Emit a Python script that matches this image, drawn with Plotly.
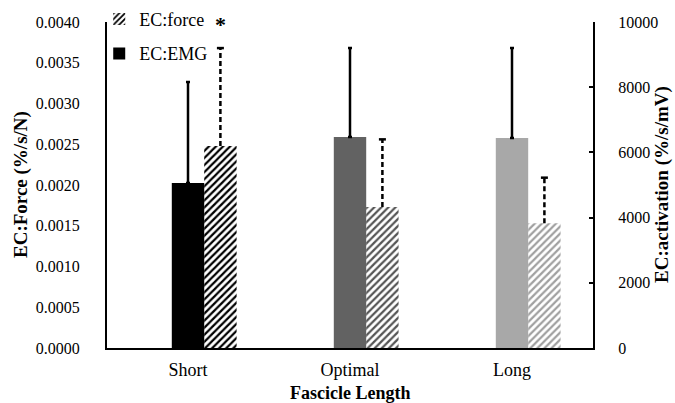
import plotly.graph_objects as go

# Data
categories = ["Short", "Optimal", "Long"]
emg_values = [5060, 6470, 6440]          # EC:EMG (%/s/mV), right axis
emg_errors = [3100, 2730, 2760]
force_values = [0.00248, 0.00173, 0.00153]  # EC:force (%/s/N), left axis
force_errors = [0.00120, 0.00083, 0.00056]

solid_colors = ["#000000", "#626262", "#a8a8a8"]
hatch_colors = ["#000000", "#555555", "#a0a0a0"]

pos = list(range(len(categories)))
bar_w = 0.2
force_pos = [p + bar_w for p in pos]

serif = "Liberation Serif"

fig = go.Figure()

# EC:force hatched bars on the left axis
fig.add_trace(go.Bar(
    x=force_pos, y=force_values, width=bar_w, name="EC:force",
    legendgroup="force",
    marker=dict(color="white", line=dict(width=0),
                pattern=dict(shape="/", fgcolor=hatch_colors, bgcolor="white",
                             fgopacity=1, size=5, solidity=0.45,
                             fillmode="overlay")),
    yaxis="y",
))

# EC:EMG solid bars on the right axis
fig.add_trace(go.Bar(
    x=pos, y=emg_values, width=bar_w, name="EC:EMG",
    legendgroup="emg",
    marker=dict(color=solid_colors, line=dict(width=0)),
    error_y=dict(type="data", symmetric=False, array=emg_errors,
                 arrayminus=[0] * len(emg_errors), color="black",
                 thickness=2.5, width=2),
    yaxis="y2",
))

# dashed error bars for EC:force
ex, ey = [], []
for xc, v, e in zip(force_pos, force_values, force_errors):
    ex += [xc, xc, None]
    ey += [v, v + e, None]
fig.add_trace(go.Scatter(
    x=ex, y=ey, mode="lines", showlegend=False, hoverinfo="skip",
    line=dict(color="black", width=2.5, dash="5px,3px"), yaxis="y",
))
fig.add_trace(go.Scatter(
    x=force_pos, y=[v + e for v, e in zip(force_values, force_errors)],
    mode="markers", showlegend=False, hoverinfo="skip",
    marker=dict(symbol="line-ew", size=5, line=dict(color="black", width=2.5)),
    yaxis="y",
))

fig.update_layout(
    width=675, height=403,
    margin=dict(l=107, r=82, t=22, b=55, autoexpand=False),
    paper_bgcolor="white", plot_bgcolor="white",
    barmode="overlay",
    font=dict(family=serif, color="black", size=16),
    showlegend=True,
    legend=dict(x=-0.016, y=1.065, xanchor="left", yanchor="top",
                traceorder="grouped", tracegroupgap=8,
                font=dict(family=serif, size=18, color="black"),
                bgcolor="rgba(0,0,0,0)", itemwidth=30),
    xaxis=dict(range=[-0.5, 2.5], tickvals=pos, ticktext=categories,
               showgrid=False, zeroline=False, showline=True,
               linecolor="black", linewidth=2, ticks="",
               tickfont=dict(family=serif, size=18),
               ticklabelstandoff=4),
    yaxis=dict(range=[0, 0.004], dtick=0.0005, tickformat=".4f",
               showgrid=False, zeroline=False, showline=True,
               linecolor="black", linewidth=2, ticks="",
               tickfont=dict(family=serif, size=16),
               ticklabelstandoff=22),
    yaxis2=dict(range=[0, 10000], dtick=2000, tickformat="d",
                overlaying="y", side="right",
                showgrid=False, zeroline=False, showline=True,
                linecolor="black", linewidth=2, ticks="inside", ticklen=4,
                tickcolor="black", tickwidth=2,
                tickfont=dict(family=serif, size=16),
                ticklabelstandoff=20),
    annotations=[
        dict(text="<b>EC:Force (%/s/N)</b>", xref="paper", yref="paper",
             x=0, xshift=-86, xanchor="center", y=0.5, yanchor="middle",
             textangle=-90, showarrow=False,
             font=dict(family=serif, size=19)),
        dict(text="<b>EC:activation (%/s/mV)</b>", xref="paper", yref="paper",
             x=1, xshift=69, xanchor="center", y=0.5, yanchor="middle",
             textangle=-90, showarrow=False,
             font=dict(family=serif, size=19)),
        dict(text="<b>Fascicle Length</b>", xref="paper", yref="paper",
             x=0.5, xanchor="center", y=0, yanchor="middle", yshift=-45,
             showarrow=False, font=dict(family=serif, size=18)),
        dict(text="<b>*</b>", xref="x", yref="paper", x=force_pos[0],
             xanchor="center", y=1, yanchor="middle", yshift=-2,
             showarrow=False, font=dict(family=serif, size=22)),
    ],
)

fig.write_html("out.html")
